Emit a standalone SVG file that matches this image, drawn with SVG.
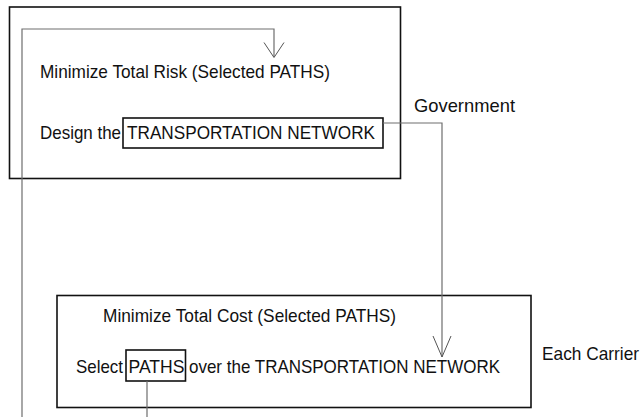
<svg xmlns="http://www.w3.org/2000/svg" width="641" height="417" viewBox="0 0 641 417">
<style>
.box{fill:none;stroke:#111;stroke-width:1.6}
.t{font-family:"Liberation Sans",Arial,sans-serif;font-size:17.8px;fill:#111}
.c{fill:none;stroke:#6e6e6e;stroke-width:1.2}
.ah{fill:none;stroke:#555;stroke-width:1}
</style>
<rect width="641" height="417" fill="#fff"/>
<g id="government">
<rect class="box" x="9.5" y="7" width="391" height="171.5"/>
<text class="t" x="40" y="78" textLength="290" lengthAdjust="spacingAndGlyphs">Minimize Total Risk (Selected PATHS)</text>
<text class="t" x="40" y="139" textLength="81" lengthAdjust="spacingAndGlyphs">Design the</text>
<g id="network-box">
<rect class="box" x="123" y="118" width="260" height="30"/>
<text class="t" x="127" y="139" textLength="248" lengthAdjust="spacingAndGlyphs">TRANSPORTATION NETWORK</text>
</g>
</g>
<g id="label-government"><text class="t" x="414" y="112" textLength="101" lengthAdjust="spacingAndGlyphs">Government</text></g>
<g id="carrier">
<rect class="box" x="57" y="295.5" width="474" height="112"/>
<text class="t" x="103" y="322" textLength="293" lengthAdjust="spacingAndGlyphs">Minimize Total Cost (Selected PATHS)</text>
<text class="t" x="76" y="373" textLength="47" lengthAdjust="spacingAndGlyphs">Select</text>
<g id="paths-box">
<rect class="box" x="126" y="350" width="59.5" height="31"/>
<text class="t" x="128.5" y="373" textLength="56" lengthAdjust="spacingAndGlyphs">PATHS</text>
</g>
<text class="t" x="189" y="373" textLength="311" lengthAdjust="spacingAndGlyphs">over the TRANSPORTATION NETWORK</text>
</g>
<g id="label-carrier"><text class="t" x="542" y="360" textLength="97" lengthAdjust="spacingAndGlyphs">Each Carrier</text></g>
<g id="connectors">
<path class="c" d="M147,381 V430 H22 V29 H274 V57"/>
<path class="ah" d="M264,42.5 L274,57.5 L284,42.5"/>
<path class="c" d="M383,123 H442 V357"/>
<path class="ah" d="M433,336 L442,357 L451,336"/>
</g>
</svg>
